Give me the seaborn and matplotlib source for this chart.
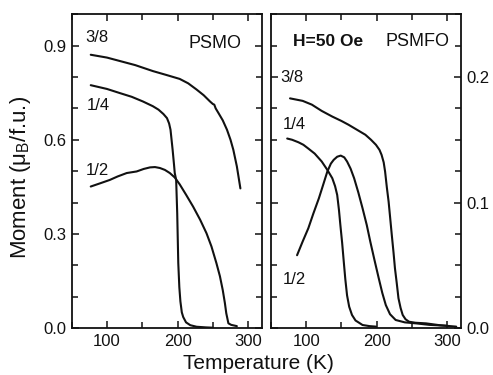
import matplotlib
matplotlib.use("Agg")
import matplotlib.pyplot as plt
from matplotlib.ticker import MultipleLocator
import seaborn as sns

# PSMO (left panel), temperature in K, moment in muB/f.u.
t_psmo_38 = [77, 100, 120, 140, 165, 185, 203, 215, 227, 237, 246, 250, 252, 254, 258, 264, 270, 275, 279, 284, 289]
m_psmo_38 = [0.871, 0.862, 0.850, 0.838, 0.819, 0.806, 0.794, 0.780, 0.760, 0.742, 0.722, 0.714, 0.712, 0.700,
             0.685, 0.662, 0.632, 0.600, 0.568, 0.515, 0.445]

t_psmo_14 = [77, 100, 118, 135, 151, 165, 173, 180, 185, 188, 190, 193, 195, 196, 198, 199.5, 201, 202.5, 204,
             206, 208, 212, 218, 227, 240, 250]
m_psmo_14 = [0.774, 0.762, 0.749, 0.737, 0.722, 0.707, 0.696, 0.682, 0.669, 0.652, 0.632, 0.568, 0.520, 0.494,
             0.472, 0.366, 0.207, 0.130, 0.085, 0.050, 0.035, 0.018, 0.009, 0.004, 0.002, 0.001]

t_psmo_12 = [77, 90, 104, 115, 128, 142, 152, 161, 168, 175, 182, 189, 196, 203, 212, 222, 232, 241, 248, 255,
             260, 264, 267, 269, 272, 276, 280, 284]
m_psmo_12 = [0.451, 0.461, 0.472, 0.483, 0.494, 0.499, 0.507, 0.512, 0.513, 0.510, 0.504, 0.494, 0.480, 0.458,
             0.425, 0.387, 0.345, 0.302, 0.260, 0.207, 0.165, 0.121, 0.080, 0.047, 0.015, 0.010, 0.008, 0.006]

# PSMFO (right panel)
t_psmfo_38 = [77, 95, 108, 122, 137, 150, 160, 172, 184, 192, 199, 204, 207, 210, 212, 214.5, 217, 219, 221.5,
              224, 226, 228.5, 231, 234, 237, 241, 246, 255, 270, 290, 313]
m_psmfo_38 = [0.183, 0.181, 0.178, 0.173, 0.1685, 0.165, 0.162, 0.158, 0.154, 0.150, 0.146, 0.142, 0.138, 0.132,
              0.1247, 0.112, 0.1007, 0.089, 0.0742, 0.060, 0.0476, 0.036, 0.0237, 0.016, 0.0104, 0.007, 0.005,
              0.0042, 0.0037, 0.0022, 0.0011]

t_psmfo_14 = [73, 80, 89, 96, 103, 112, 122, 130, 137, 141, 144, 146.5, 148.5, 151, 153.3, 155.5, 158, 161, 165,
              170, 180, 190, 199]
m_psmfo_14 = [0.151, 0.150, 0.148, 0.146, 0.143, 0.139, 0.1327, 0.126, 0.1194, 0.113, 0.106, 0.094, 0.082, 0.068,
              0.053, 0.039, 0.026, 0.017, 0.0104, 0.006, 0.0024, 0.0015, 0.0011]

t_psmfo_12 = [87, 95, 103, 110, 118, 124, 130, 135, 139, 144, 149, 154, 158, 163, 168, 174, 180, 186, 191, 197,
              203, 208, 213, 219, 227, 240, 256, 275, 299]
m_psmfo_12 = [0.058, 0.069, 0.0795, 0.091, 0.1034, 0.114, 0.1247, 0.131, 0.134, 0.1365, 0.1374, 0.136, 0.1327,
              0.127, 0.1194, 0.108, 0.0954, 0.082, 0.0688, 0.054, 0.0396, 0.028, 0.0183, 0.011, 0.0064, 0.0045,
              0.0037, 0.0025, 0.0018]

sns.set_style("ticks")
plt.rcParams["font.family"] = ["Liberation Sans", "DejaVu Sans"]
plt.rcParams["mathtext.fontset"] = "custom"
plt.rcParams["mathtext.rm"] = "Liberation Sans"
plt.rcParams["mathtext.it"] = "Liberation Sans:italic"

fig = plt.figure(figsize=(4.93, 3.75))
ax1 = fig.add_axes([0.1454, 0.1253, 0.3866, 0.8366])
ax2 = fig.add_axes([0.5497, 0.1253, 0.3857, 0.8366])

line_kw = dict(color="#111111", linewidth=1.5, estimator=None)
sns.lineplot(x=t_psmo_38, y=m_psmo_38, ax=ax1, **line_kw)
sns.lineplot(x=t_psmo_14, y=m_psmo_14, ax=ax1, **line_kw)
sns.lineplot(x=t_psmo_12, y=m_psmo_12, ax=ax1, **line_kw)
sns.lineplot(x=t_psmfo_38, y=m_psmfo_38, ax=ax2, **line_kw)
sns.lineplot(x=t_psmfo_14, y=m_psmfo_14, ax=ax2, **line_kw)
sns.lineplot(x=t_psmfo_12, y=m_psmfo_12, ax=ax2, **line_kw)

ax1.set_ylim(0, 1.0)
ax1.yaxis.set_major_locator(MultipleLocator(0.3))
ax1.yaxis.set_minor_locator(MultipleLocator(0.1))
ax2.set_ylim(0, 0.25)
ax2.yaxis.set_major_locator(MultipleLocator(0.1))
ax2.yaxis.set_minor_locator(MultipleLocator(0.025))

for ax in (ax1, ax2):
    ax.set_xlim(50, 320)
    ax.xaxis.set_major_locator(MultipleLocator(100))
    ax.xaxis.set_minor_locator(MultipleLocator(50))
    ax.set_xlabel("")
    ax.set_ylabel("")
    for sp in ax.spines.values():
        sp.set_linewidth(1.3)
        sp.set_color("#111111")
    ax.tick_params(which="both", direction="in", top=True, right=True, width=1.1, color="#111111",
                   labelsize=12, labelcolor="#111111", pad=4)
    ax.tick_params(which="major", length=5)
    ax.tick_params(which="minor", length=4)

ax2.tick_params(which="both", labelleft=False, labelright=True)

txt = dict(fontsize=12, color="#111111")
ax1.text(70, 0.925, "3/8", ha="left", va="center", **txt)
ax1.text(72, 0.709, "1/4", ha="left", va="center", **txt)
ax1.text(70, 0.501, "1/2", ha="left", va="center", **txt)
ax1.text(290, 0.906, "PSMO", ha="right", va="center", fontsize=13, color="#111111")

ax2.text(81, 0.2285, "H=50 Oe", ha="left", va="center", fontweight="bold", fontsize=12.5, color="#111111")
ax2.text(304, 0.2285, "PSMFO", ha="right", va="center", fontsize=13, color="#111111")
ax2.text(63, 0.1998, "3/8", ha="left", va="center", **txt)
ax2.text(66, 0.162, "1/4", ha="left", va="center", **txt)
ax2.text(67, 0.0383, "1/2", ha="left", va="center", **txt)

fig.text(21 / 493, 1 - 177 / 375, "Moment (μ$_\\mathrm{B}$/f.u.)", rotation=90, ha="center", va="center",
         fontsize=16, color="#111111")
fig.text(258.5 / 493, 0.016, "Temperature (K)", ha="center", va="baseline", fontsize=15, color="#111111")

fig.savefig("out.png", dpi=100)
